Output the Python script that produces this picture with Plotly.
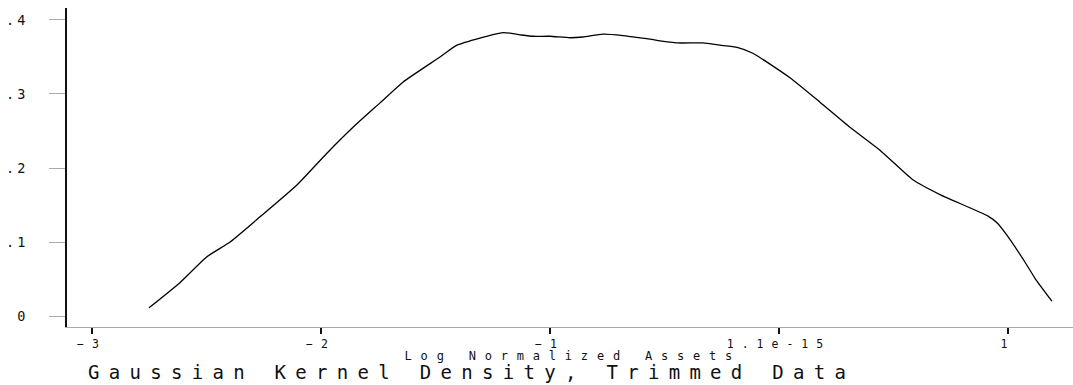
import plotly.graph_objects as go

# Kernel density estimate
log_assets = [-2.751, -2.616, -2.498, -2.397, -2.266, -2.105, -1.974, -1.860, -1.742,
              -1.642, -1.480, -1.406, -1.205, -1.131, -1.074, -1.000, -0.913, -0.856,
              -0.769, -0.681, -0.563, -0.445, -0.332, -0.258, -0.183, -0.114, 0.048,
              0.179, 0.310, 0.441, 0.585, 0.703, 0.913, 0.952, 0.996, 1.074, 1.118, 1.192]
density = [0.011, 0.045, 0.080, 0.100, 0.134, 0.177, 0.220, 0.255, 0.288,
           0.316, 0.350, 0.366, 0.383, 0.380, 0.378, 0.378, 0.376, 0.377,
           0.381, 0.379, 0.374, 0.369, 0.369, 0.366, 0.363, 0.355, 0.322,
           0.289, 0.255, 0.224, 0.184, 0.164, 0.135, 0.126, 0.109, 0.073, 0.051, 0.020]

x_tickvals = [-3, -2, -1, 0, 1]
x_ticktext = ["\u22123", "\u22122", "\u22121", "1.1e-15", "1"]
y_tickvals = [0, 0.1, 0.2, 0.3, 0.4]
y_ticktext = ["0", ".1", ".2", ".3", ".4"]

x_title = "Log Normalized Assets"
chart_title = "Gaussian Kernel Density, Trimmed Data"

FONT = "DejaVu Sans Mono"

fig = go.Figure()
fig.add_trace(go.Scatter(
    x=log_assets, y=density, mode="lines",
    line=dict(color="black", width=1.3, shape="spline", smoothing=0.5),
    hoverinfo="skip", showlegend=False,
))

fig.update_layout(
    width=1073, height=385,
    margin=dict(l=67, r=0, t=8, b=58),
    paper_bgcolor="white", plot_bgcolor="white",
    font=dict(family=FONT, color="#111"),
    xaxis=dict(
        range=[-3.109, 1.284], showgrid=False, zeroline=False,
        showline=True, linecolor="#aaaaaa", linewidth=1,
        tickmode="array", tickvals=x_tickvals, ticktext=x_ticktext,
        ticks="outside", ticklen=6, tickwidth=1.5, tickcolor="#111",
        tickfont=dict(family=FONT, size=11.5, color="#111"),
    ),
    yaxis=dict(
        range=[-0.01486, 0.4162], showgrid=False, zeroline=False,
        showline=True, linecolor="#111", linewidth=2,
        tickmode="array", tickvals=y_tickvals, ticktext=y_ticktext,
        ticks="outside", ticklen=16, tickwidth=1, tickcolor="#aaaaaa",
        ticklabelstandoff=18,
        tickfont=dict(family=FONT, size=13.5, color="#111"),
    ),
    annotations=[
        dict(text=x_title, xref="paper", yref="paper", x=0.5025, y=-0.0909,
             xanchor="center", yanchor="middle", showarrow=False,
             font=dict(family=FONT, size=12, color="#111")),
        dict(text=chart_title, xref="paper", yref="paper", x=0.402, y=-0.1412,
             xanchor="center", yanchor="middle", showarrow=False,
             font=dict(family=FONT, size=19, color="#111")),
    ],
)

post = """
var gd = document.getElementById('{plot_id}');
function sp(sel, ls){ gd.querySelectorAll(sel).forEach(function(t){ t.style.letterSpacing = ls; }); }
sp('g.xtick text', '8px');
sp('g.ytick text', '3px');
var ann = gd.querySelectorAll('g.annotation text');
if (ann.length > 0) ann[0].style.letterSpacing = '8.8px';
if (ann.length > 1) ann[1].style.letterSpacing = '9.3px';
"""

fig.write_html("out.html", post_script=post)
